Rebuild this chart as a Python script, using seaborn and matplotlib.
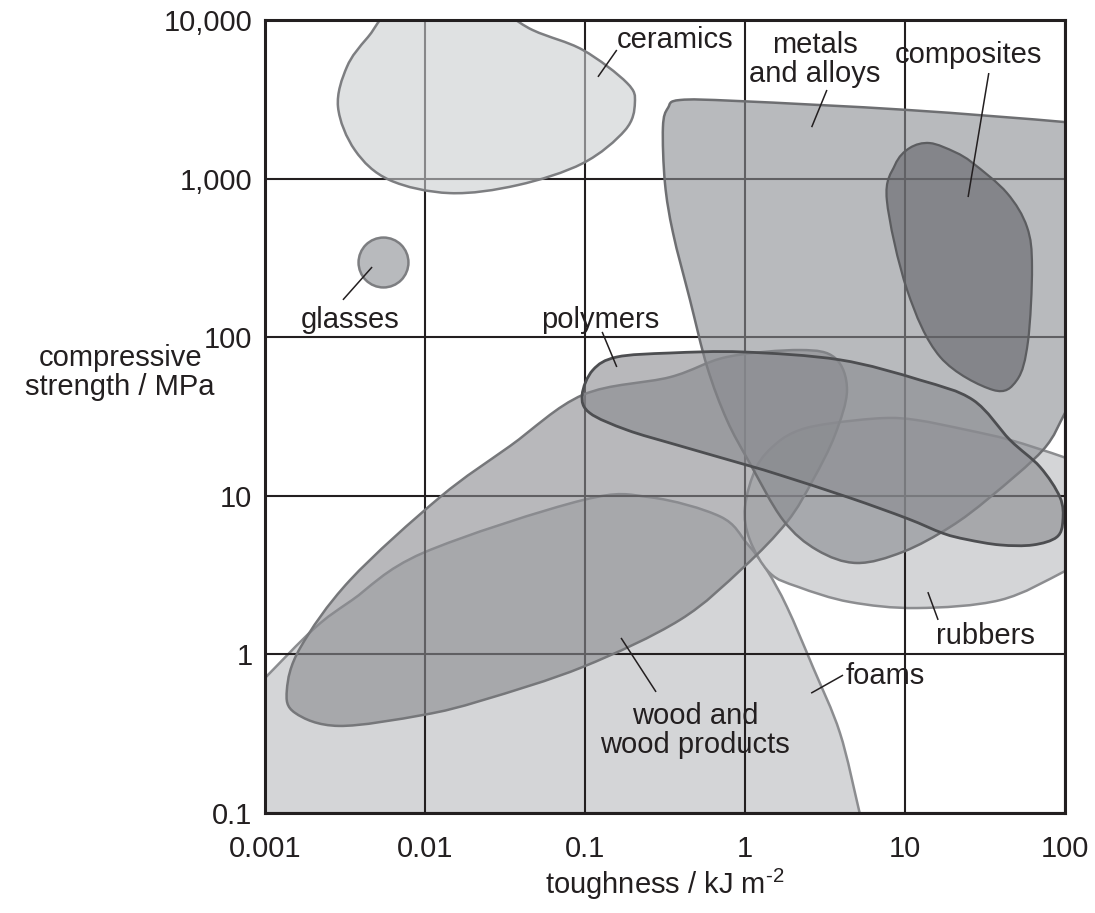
import numpy as np
import matplotlib
matplotlib.use("Agg")
import matplotlib.pyplot as plt
from matplotlib.path import Path
from matplotlib.patches import PathPatch
import seaborn as sns

# ---------------- data: material property envelopes ----------------
# toughness / kJ m^-2  (t)   and   compressive strength / MPa  (s)
ceramics_t = [0.0072, 0.022, 0.047, 0.097, 0.183, 0.205, 0.178, 0.097, 0.038, 0.0143, 0.006, 0.00365, 0.00286, 0.00325, 0.0044]
ceramics_s = [13000, 13000, 8650, 6470, 4010, 3000, 2020, 1250, 910, 810, 980, 1510, 2830, 5060, 7800]

metals_t = [124, 100, 73, 34, 19.1, 9.7, 5.0, 2.82, 1.73, 1.07, 0.77, 0.58, 0.453, 0.355, 0.316, 0.307, 0.33, 0.392, 0.93, 10.3, 96, 133]
metals_s = [50, 33.3, 19.5, 9.8, 6.35, 4.43, 3.77, 4.55, 7.03, 16.1, 30.1, 64.9, 172, 454, 938, 2110, 2790, 3130, 3080, 2710, 2280, 2150]
metals_out_t = [200, 200]
metals_out_s = [2150, 50]

composites_t = [10.7, 14.3, 20.5, 26.6, 43.4, 57.9, 62.2, 58.7, 50.1, 35.5, 16.6, 10.3, 7.7, 8.66]
composites_s = [1560, 1675, 1470, 1250, 811, 495, 277, 94, 53.7, 46.5, 75, 199, 733, 1220]

glasses_t = [0.0055]
glasses_s = [300]

polymers_t = [0.096, 0.107, 0.183, 0.376, 1.03, 1.66, 4.53, 10.3, 17.3, 24.4, 39.3, 63.1, 89, 97, 93, 69.8, 45.3, 26.6, 12.4, 3.92, 0.97, 0.34, 0.158, 0.112]
polymers_s = [43.3, 33.3, 26.0, 20.9, 15.6, 13.5, 9.7, 7.2, 5.8, 5.3, 4.9, 4.9, 5.5, 7.0, 9.8, 15.2, 22.5, 40.2, 53.7, 72, 80.7, 79.5, 75, 62.1]

rubbers_t = [143, 97, 45.3, 24.4, 11.9, 7.3, 3.5, 2.2, 1.58, 1.18, 1.0, 1.07, 1.43, 2.16, 4.53, 11.9, 39.3, 97, 143]
rubbers_s = [15, 17.6, 22.5, 26, 30, 30.9, 28.7, 26, 21.5, 15.2, 8.5, 5.3, 3.26, 2.66, 2.14, 1.96, 2.2, 3.3, 4.2]
rubbers_out_t = [300, 300]
rubbers_out_s = [4.2, 15]

foams_t = [0.00075, 0.001, 0.00205, 0.0035, 0.0097, 0.097, 0.254, 0.70, 1.03, 1.37, 1.83, 2.66, 3.92, 5.16, 5.7]
foams_s = [0.53, 0.71, 1.47, 2.2, 4.36, 9.4, 9.8, 7.4, 5.0, 3.4, 1.99, 0.83, 0.32, 0.104, 0.068]
foams_out_t = [5.7, 0.0005]
foams_out_s = [0.03, 0.03]

wood_t = [0.00137, 0.00154, 0.0029, 0.0097, 0.023, 0.097, 0.392, 0.97, 1.83, 2.66, 3.65, 4.34, 3.65, 2.21, 0.77, 0.34, 0.097, 0.034, 0.0124, 0.0034, 0.00166]
wood_s = [0.597, 0.428, 0.354, 0.415, 0.515, 0.834, 1.65, 3.51, 6.84, 12.6, 24.2, 46.5, 74, 83, 75, 56, 43.3, 20.6, 9.8, 2.94, 1.10]

# labels: text, anchor (t, s) and leader line ends
labels = ["ceramics", "metals\nand alloys", "composites", "glasses", "polymers",
          "rubbers", "foams", "wood and\nwood products"]
label_t = [0.365, 2.74, 24.8, 0.0034, 0.124, 31.6, 7.5, 0.487]
label_s = [7480, 5600, 6010, 128, 128, 1.31, 0.73, 0.33]
leader_t0 = [0.158, 3.25, 33.4, 0.00307, 0.128, 13.9, 4.1, 0.278]
leader_s0 = [6470, 3620, 4630, 172, 108, 2.47, 0.74, 0.58]
leader_t1 = [0.1205, 2.61, 24.8, 0.00467, 0.158, 16.1, 2.59, 0.168]
leader_s1 = [4380, 2110, 765, 277, 64.9, 1.65, 0.57, 1.27]

x_ticks = [0.001, 0.01, 0.1, 1, 10, 100]
x_tick_labels = ["0.001", "0.01", "0.1", "1", "10", "100"]
y_ticks = [0.1, 1, 10, 100, 1000, 10000]
y_tick_labels = ["0.1", "1", "10", "100", "1,000", "10,000"]


# ---------------- helpers ----------------
def envelope_path(t, s, closed=True, out_t=None, out_s=None):
    """Smooth outline through the given points (Catmull-Rom in log space)."""
    P = np.column_stack([np.log10(t), np.log10(s)])
    n = len(P)
    verts = [P[0]]
    codes = [Path.MOVETO]
    nseg = n if closed else n - 1
    for i in range(nseg):
        if closed:
            p0, p1, p2, p3 = P[(i - 1) % n], P[i], P[(i + 1) % n], P[(i + 2) % n]
        else:
            p0 = P[i - 1] if i > 0 else 2 * P[0] - P[1]
            p1, p2 = P[i], P[i + 1]
            p3 = P[i + 2] if i + 2 < n else 2 * P[-1] - P[-2]
        verts += [p1 + (p2 - p0) / 6.0, p2 - (p3 - p1) / 6.0, p2]
        codes += [Path.CURVE4] * 3
    if not closed:
        for ct, cs in zip(out_t, out_s):
            verts.append([np.log10(ct), np.log10(cs)])
            codes.append(Path.LINETO)
    verts.append(P[0])
    codes.append(Path.CLOSEPOLY)
    return Path(10 ** np.array(verts), codes)


def add_envelope(ax, path, face, alpha, edge, lw, z):
    rgba = matplotlib.colors.to_rgba(face, alpha)
    ax.add_patch(PathPatch(path, facecolor=rgba, edgecolor=edge, lw=lw, zorder=z,
                           joinstyle="round"))


# ---------------- figure ----------------
sns.set_theme(style="white")
plt.rcParams["font.family"] = ["Liberation Sans", "DejaVu Sans"]
plt.rcParams["mathtext.fontset"] = "custom"
plt.rcParams["mathtext.rm"] = "Liberation Sans"
plt.rcParams["mathtext.it"] = "Liberation Sans"

ink = "#231f20"
fs = 21

fig = plt.figure(figsize=(10.95, 9.13), dpi=100)
ax = fig.add_axes([265 / 1095, 1 - 813 / 913, 800 / 1095, 793 / 913])
ax.set_xscale("log")
ax.set_yscale("log")
ax.set_xlim(0.001, 100)
ax.set_ylim(0.1, 10000)

ax.set_axisbelow(True)
ax.grid(True, which="major", color=ink, lw=1.5)
ax.minorticks_off()
ax.set_xticks(x_ticks, labels=x_tick_labels)
ax.set_yticks(y_ticks, labels=y_tick_labels)
ax.tick_params(axis="both", length=0, labelsize=fs, colors=ink)
ax.tick_params(axis="x", pad=16)
ax.tick_params(axis="y", pad=9)
for sp in ax.spines.values():
    sp.set_color(ink)
    sp.set_linewidth(2.2)
    sp.set_zorder(10)

# light envelopes sit beneath the grid
add_envelope(ax, envelope_path(foams_t, foams_s, closed=False, out_t=foams_out_t, out_s=foams_out_s),
             "#d4d5d7", 1.0, "#8c8d90", 1.8, 0.2)
add_envelope(ax, envelope_path(rubbers_t, rubbers_s, closed=False, out_t=rubbers_out_t, out_s=rubbers_out_s),
             "#d4d5d7", 1.0, "#8c8d90", 1.8, 0.3)

# translucent envelopes above the grid
add_envelope(ax, envelope_path(ceramics_t, ceramics_s), "#cbcdd0", 0.6, "#7d7e81", 1.8, 1.0)
add_envelope(ax, envelope_path(wood_t, wood_s), "#898a8f", 0.6, "#76777a", 1.8, 1.1)
add_envelope(ax, envelope_path(metals_t, metals_s, closed=False, out_t=metals_out_t, out_s=metals_out_s),
             "#8a8c91", 0.6, "#6e6f72", 1.8, 1.2)
add_envelope(ax, envelope_path(composites_t, composites_s), "#626368", 0.6, "#5c5d60", 1.6, 1.3)
add_envelope(ax, envelope_path(polymers_t, polymers_s), "#898a8f", 0.6, "#4d4e51", 2.0, 1.4)

sns.scatterplot(x=glasses_t, y=glasses_s, ax=ax, s=1290, color=matplotlib.colors.to_rgba("#8a8c91", 0.6),
                edgecolor="#7d7e81", linewidth=1.8, zorder=1.5, legend=False)

for t0, s0, t1, s1 in zip(leader_t0, leader_s0, leader_t1, leader_s1):
    ax.plot([t0, t1], [s0, s1], color=ink, lw=1.1, zorder=5, solid_capstyle="butt")

for txt, t, s in zip(labels, label_t, label_s):
    ax.text(t, s, txt, ha="center", va="center", fontsize=fs, color=ink,
            linespacing=1.05, zorder=6)

ax.set_xlabel(r"toughness / kJ m$^{\text{-2}}$", fontsize=fs, color=ink)
ax.xaxis.set_label_coords(0.5, -0.068)
ax.set_ylabel("compressive\nstrength / MPa", fontsize=fs, color=ink, rotation=0,
              ha="center", va="center", linespacing=1.05)
ax.yaxis.set_label_coords(-0.181, 0.556)

fig.savefig("out.png", dpi=100, facecolor="white")
